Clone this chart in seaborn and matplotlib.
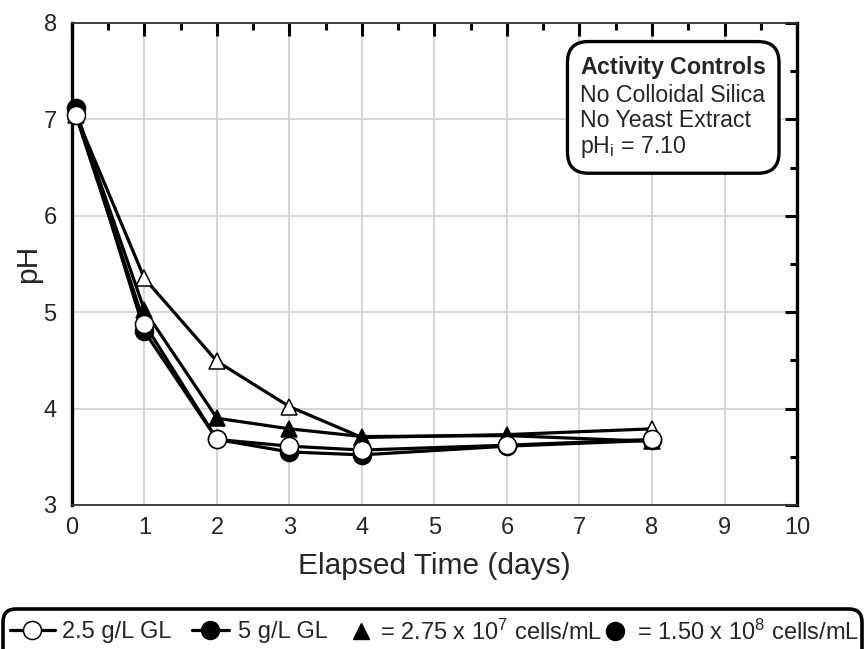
import matplotlib
matplotlib.use("Agg")
import matplotlib.pyplot as plt
from matplotlib.lines import Line2D
from matplotlib.patches import FancyBboxPatch
from matplotlib.transforms import IdentityTransform
from matplotlib.ticker import MultipleLocator
import seaborn as sns
import pandas as pd

# ---- data ----
days = [0.05, 1, 2, 3, 4, 6, 8]
ph_gl25_tri = [7.05, 5.35, 4.49, 4.02, 3.70, 3.73, 3.79]   # 2.5 g/L GL, 2.75e7 cells/mL (open triangle)
ph_gl5_tri = [7.08, 5.02, 3.90, 3.79, 3.71, 3.72, 3.66]    # 5 g/L GL, 2.75e7 cells/mL (filled triangle)
ph_gl5_circ = [7.12, 4.80, 3.68, 3.55, 3.52, 3.61, 3.67]   # 5 g/L GL, 1.50e8 cells/mL (filled circle)
ph_gl25_circ = [7.05, 4.88, 3.68, 3.61, 3.57, 3.62, 3.68]  # 2.5 g/L GL, 1.50e8 cells/mL (open circle)

x_ticks = list(range(0, 11))
y_ticks = list(range(3, 9))
legend_labels = ["2.5 g/L GL", "5 g/L GL",
                 "= 2.75 x 10$^{7}$ cells/mL", "= 1.50 x 10$^{8}$ cells/mL"]
note_lines = ["$\\mathbf{Activity\\ Controls}$", "No Colloidal Silica",
              "No Yeast Extract", "pH$_\\mathrm{i}$ = 7.10"]

sns.set_theme(style="white")
plt.rcParams["font.family"] = ["Liberation Sans", "DejaVu Sans"]
plt.rcParams["mathtext.fontset"] = "custom"
plt.rcParams["mathtext.rm"] = "Liberation Sans"
plt.rcParams["mathtext.it"] = "Liberation Sans:italic"
plt.rcParams["mathtext.bf"] = "Liberation Sans:bold"

W, H = 865, 649
fig = plt.figure(figsize=(W / 100, H / 100), dpi=100)
ax = fig.add_axes([0.0832, 0.2219, 0.8382, 0.7427])

series = [
    (ph_gl25_tri, "^", "white", 12),
    (ph_gl5_tri, "^", "black", 12),
    (ph_gl5_circ, "o", "black", 13),
    (ph_gl25_circ, "o", "white", 13),
]
for i, (vals, mk, fc, ms) in enumerate(series):
    df = pd.DataFrame({"days": days, "pH": vals})
    sns.lineplot(data=df, x="days", y="pH", ax=ax, color="black", lw=2.3,
                 marker=mk, markersize=ms, markerfacecolor=fc,
                 markeredgecolor="black", markeredgewidth=1.1,
                 sort=False, estimator=None, clip_on=False, zorder=3 + i)

ax.set_xlim(0, 10)
ax.set_ylim(3, 8)
ax.set_xticks(x_ticks)
ax.set_yticks(y_ticks)
ax.xaxis.set_minor_locator(MultipleLocator(0.5))
ax.yaxis.set_minor_locator(MultipleLocator(0.5))
ax.grid(True, which="major", color="#cfcfcf", lw=1.2, zorder=0)
ax.set_axisbelow(True)

ax.tick_params(which="major", direction="in", length=9, width=2.2, color="black",
               top=True, right=True, labelsize=17, pad=9)
ax.tick_params(which="minor", direction="in", length=5, width=2.2, color="black",
               top=True, right=True)
ax.tick_params(axis="y", which="major", pad=11)

for s in ["left", "right"]:
    ax.spines[s].set_linewidth(2.4)
    ax.spines[s].set_color("black")
for s in ["top", "bottom"]:
    ax.spines[s].set_linewidth(1.3)
    ax.spines[s].set_color("#333333")

ax.set_xlabel("Elapsed Time (days)", fontsize=21.5, labelpad=9)
ax.set_ylabel("pH", fontsize=21.5, labelpad=1)

ax.text(0.701, 0.935, "\n".join(note_lines), transform=ax.transAxes,
        ha="left", va="top", fontsize=16.7, linespacing=1.13, zorder=10,
        bbox=dict(boxstyle="round,pad=0.55,rounding_size=0.9", fc="white",
                  ec="black", lw=2.4))

# ---- bottom key: rounded frame with four entries ----
frame = FancyBboxPatch((3, -25), 859, 25 + (H - 609),
                       boxstyle="round,pad=0,rounding_size=13",
                       transform=IdentityTransform(), fc="white", ec="black",
                       lw=2.6, zorder=1)
fig.add_artist(frame)

handles = [
    Line2D([], [], color="black", lw=2.3, marker="o", markersize=13,
           markerfacecolor="white", markeredgecolor="black", markeredgewidth=1.1),
    Line2D([], [], color="black", lw=2.3, marker="o", markersize=13,
           markerfacecolor="black", markeredgecolor="black"),
    Line2D([], [], color="black", lw=0, marker="^", markersize=12,
           markerfacecolor="black", markeredgecolor="black"),
    Line2D([], [], color="black", lw=0, marker="o", markersize=13,
           markerfacecolor="black", markeredgecolor="black"),
]
# (left pixel of handle, handlelength [em], handletextpad [em])
key_layout = [(10, 1.9, 0.3), (192, 1.55, 0.38), (350, 0.93, 0.34), (606, 0.75, 0.55)]
y_key = 1 - 632 / H
for h, lab, (xl, hl, tp) in zip(handles, legend_labels, key_layout):
    lg = fig.legend([h], [lab], loc="center left", bbox_to_anchor=(xl / W, y_key),
                    frameon=False, fontsize=17, borderaxespad=0, borderpad=0,
                    handlelength=hl, handletextpad=tp, numpoints=1)
    lg.set_zorder(2)

fig.savefig("out.png", dpi=100)
